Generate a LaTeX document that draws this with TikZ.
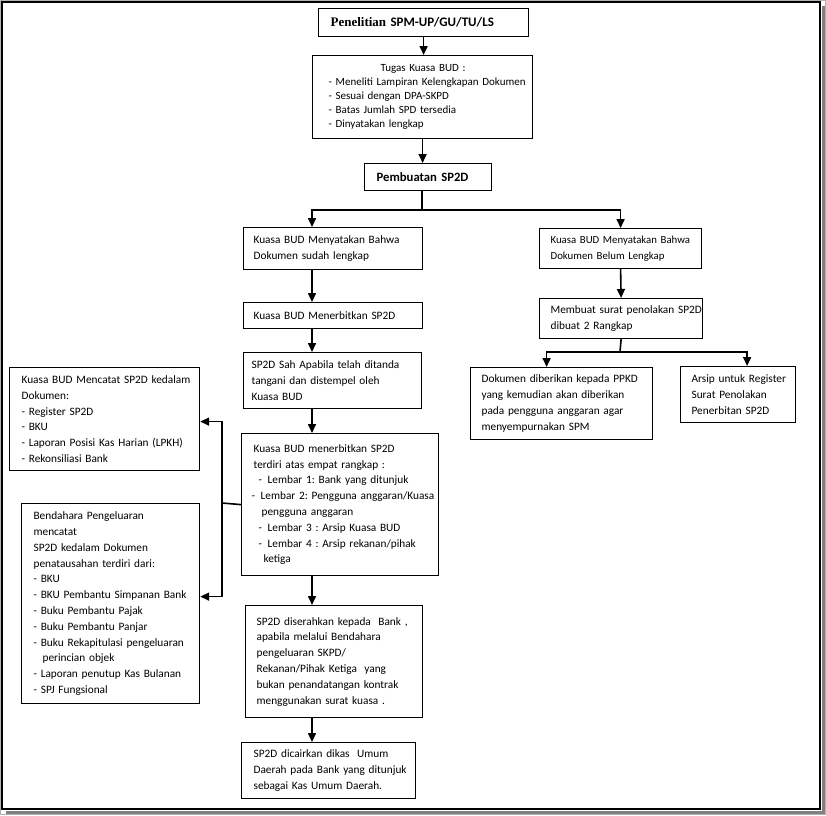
\documentclass[tikz,border=0pt]{standalone}
\usepackage{fontspec}
\setmainfont{Carlito}
\newfontfamily\serifjudul{Liberation Serif}
\usetikzlibrary{arrows.meta}

\tikzset{
  kotak/.style={draw, line width=1.2pt, anchor=north west, inner xsep=0pt, inner ysep=0pt,
    align=left, font=\fontsize{11.3}{15.8}\selectfont\frenchspacing,
    execute at begin node={\leftskip=#1\relax\hyphenpenalty=10000\relax}},
  kotak/.default=10pt,
  panah/.style={line width=1.6pt, -{Triangle[width=8pt,length=9pt]}},
  garis/.style={line width=1.6pt},
}

\begin{document}
\begin{tikzpicture}[x=1pt, y=-1pt]

\useasboundingbox (0,0) rectangle (826,815);
\draw[gray!60, line width=0.6pt] (0.3,0.3) rectangle (825.7,814.7);
\draw[gray, line width=3pt] (823,6) -- (823,812) -- (6,812);
\draw[line width=1.5pt] (2,2) rectangle (820,809);

% kolom tengah
\node[kotak=12pt, text width=210pt, minimum height=28pt,
  font=\fontsize{13}{16}\selectfont\bfseries] (judul) at (318,8)
  {{\serifjudul\bfseries Penelitian} SPM-UP/GU/TU/LS};
\node[kotak=16pt, text width=220pt, minimum height=83pt,
  font=\fontsize{11}{14}\selectfont\frenchspacing] (tugas) at (312,55)
  {\hspace*{52pt}Tugas Kuasa BUD :\\
   - Meneliti Lampiran Kelengkapan Dokumen\\
   - Sesuai dengan DPA-SKPD\\
   - Batas Jumlah SPD tersedia\\
   - Dinyatakan lengkap};
\node[kotak=12pt, text width=127pt, minimum height=27pt,
  font=\fontsize{12.7}{15}\selectfont\bfseries] (buat) at (364,163) {Pembuatan SP2D};

% cabang kiri
\node[kotak, text width=179pt, minimum height=42pt] (lengkap) at (243,227)
  {Kuasa BUD Menyatakan Bahwa\\Dokumen sudah lengkap};
\node[kotak, text width=179pt, minimum height=26pt] (terbit) at (243,302)
  {Kuasa BUD Menerbitkan SP2D};
\node[kotak=8pt, text width=178pt, minimum height=56pt] (sah) at (243,352)
  {SP2D Sah Apabila telah ditanda\\tangani dan distempel oleh\\Kuasa BUD};
\node[kotak=12pt, text width=197pt, minimum height=142pt] (rangkap) at (241,433)
  {Kuasa BUD menerbitkan SP2D\\
   terdiri atas empat rangkap :\\
   \hspace*{5pt}-\enspace Lembar 1: Bank yang ditunjuk\\
   \hspace*{-2pt}-\enspace Lembar 2: Pengguna anggaran/Kuasa\\
   \hspace*{8pt}pengguna anggaran\\
   \hspace*{5pt}-\enspace Lembar 3 : Arsip Kuasa BUD\\
   \hspace*{5pt}-\enspace Lembar 4 : Arsip rekanan/pihak\\
   \hspace*{10pt}ketiga};
\node[kotak=11pt, text width=177pt, minimum height=112pt] (serah) at (245,605)
  {SP2D diserahkan kepada\ \ Bank ,\\
   apabila melalui Bendahara\\
   pengeluaran SKPD/\\
   Rekanan/Pihak Ketiga\ \ yang\\
   bukan penandatangan kontrak\\
   menggunakan surat kuasa .};
\node[kotak=12pt, text width=174pt, minimum height=56pt] (cair) at (241,742)
  {SP2D dicairkan dikas\ \ Umum\\Daerah pada Bank yang ditunjuk\\sebagai Kas Umum Daerah.};

% cabang kanan
\node[kotak=11pt, text width=162pt, minimum height=40pt,
  font=\fontsize{10.8}{15.8}\selectfont] (belum) at (539,228)
  {Kuasa BUD Menyatakan Bahwa\\Dokumen Belum Lengkap};
\node[kotak=11pt, text width=163pt, minimum height=40pt] (tolak) at (539,298)
  {Membuat surat penolakan SP2D\\dibuat 2 Rangkap};
\node[kotak=11pt, text width=182pt, minimum height=72pt] (ppkd) at (470,367)
  {Dokumen diberikan kepada PPKD\\yang kemudian akan diberikan\\pada pengguna anggaran agar\\menyempurnakan SPM};
\node[kotak=11pt, text width=115pt, minimum height=56pt] (arsip) at (680,366)
  {Arsip untuk Register\\Surat Penolakan\\Penerbitan SP2D};

% pencatatan
\node[kotak=12pt, text width=190pt, minimum height=103pt] (catat) at (9,367)
  {Kuasa BUD Mencatat SP2D kedalam\\
   Dokumen:\\
   - Register SP2D\\
   - BKU\\
   - Laporan Posisi Kas Harian (LPKH)\\
   - Rekonsiliasi Bank};
\node[kotak=12pt, text width=178pt, minimum height=200pt] (bendahara) at (21,503)
  {Bendahara Pengeluaran\\
   mencatat\\
   SP2D kedalam Dokumen\\
   penatausahan terdiri dari:\\
   - BKU\\
   - BKU Pembantu Simpanan Bank\\
   - Buku Pembantu Pajak\\
   - Buku Pembantu Panjar\\
   - Buku Rekapitulasi pengeluaran\\
   \hspace*{9pt}perincian objek\\
   - Laporan penutup Kas Bulanan\\
   - SPJ Fungsional};

\coordinate (kiri) at (312,0);
\coordinate (cabang) at (422,210);
\coordinate (cabang2) at (620,352);
\coordinate (sambung) at (222,503);

\draw[panah] (judul.south) -- (judul.south |- tugas.north);
\draw[panah] (tugas.south) -- (tugas.south |- buat.north);
\draw[garis] (buat.south -| cabang) -- (cabang);
\draw[panah] (cabang) -| (lengkap.north -| kiri);
\draw[panah] (cabang) -| (belum.north);

\draw[panah] (lengkap.south -| kiri) -- (terbit.north -| kiri);
\draw[panah] (terbit.south -| kiri) -- (sah.north -| kiri);
\draw[panah] (sah.south -| kiri) -- (rangkap.north -| kiri);
\draw[panah] (rangkap.south -| kiri) -- (serah.north -| kiri);
\draw[panah] (serah.south -| kiri) -- (cair.north -| kiri);

\draw[panah] (belum.south) -- (tolak.north);
\draw[garis] (tolak.south) -- (cabang2);
\draw[panah] (cabang2) -| ([xshift=-15pt]ppkd.north);
\draw[panah] (cabang2) -| ([xshift=9pt]arsip.north);

\draw[garis] (rangkap.west) -- (sambung);
\draw[panah] (sambung) |- ([yshift=-2.5pt]catat.east);
\draw[panah] (sambung) |- ([yshift=7pt]bendahara.east);

\end{tikzpicture}
\end{document}
